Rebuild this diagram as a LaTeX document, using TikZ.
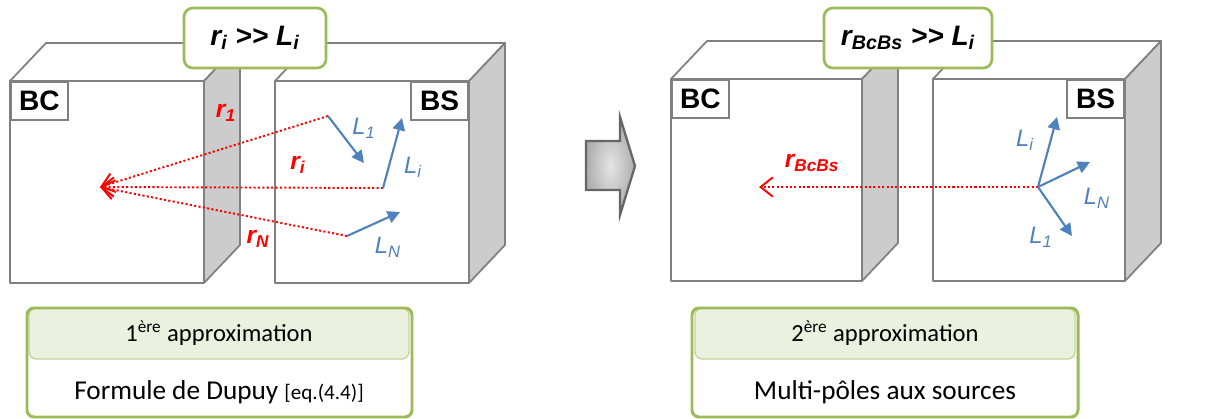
\documentclass[tikz,border=0pt]{standalone}
\usepackage{fontspec}
\setmainfont{Liberation Sans}
\newfontfamily\bodyfont{Carlito}
\usepackage{tikz}
\usetikzlibrary{positioning,calc,arrows.meta}
\definecolor{boxedge}{RGB}{128,128,128}
\definecolor{sidegrey}{RGB}{204,204,204}
\definecolor{condgreen}{HTML}{9BBB59}
\definecolor{headgreen}{HTML}{EBF1DE}
\definecolor{vecblue}{HTML}{4F81BD}
\definecolor{distred}{RGB}{255,0,0}

% block: front face (x1,y1)-(x2,y2), depth 36 right / 38 up
\newcommand{\drawblock}[4]{%
  \draw[face] (#1,#2) -- ({#1+36},{#2-38}) -- ({#3+36},{#2-38}) -- (#3,#2) -- cycle;
  \draw[face, fill=sidegrey] (#3,#2) -- ({#3+36},{#2-38}) -- ({#3+36},{#4-38}) -- (#3,#4) -- cycle;
  \draw[face] (#1,#2) rectangle (#3,#4);
}
\newcommand{\muchgt}{>\kern0pt>}

\begin{document}
\begin{tikzpicture}[x=0.02cm, y=-0.02cm,
  face/.style={draw=boxedge, line width=1pt, fill=white, line join=round},
  tag/.style={draw=boxedge, line width=1pt, fill=white, minimum width=1.14cm, minimum height=0.76cm, inner sep=0pt, anchor=north west, font=\fontsize{16}{16}\selectfont\bfseries},
  cond/.style={draw=condgreen, line width=1.5pt, fill=white, rounded corners=5pt, minimum height=1.2cm, inner sep=0pt, font=\fontsize{16}{18}\selectfont\bfseries\itshape},
  dist/.style={draw=distred, line width=1.1pt, dash pattern=on 1.2pt off 1.3pt, -{Straight Barb[length=7pt,width=11pt]}},
  vec/.style={draw=vecblue, line width=1.2pt, -{Triangle[length=7pt,width=7pt]}},
  rlab/.style={text=distred, inner sep=0pt, font=\fontsize{14}{14}\selectfont\bfseries\itshape},
  llab/.style={text=vecblue, inner sep=0pt, font=\fontsize{13.5}{14}\selectfont\itshape},
  head/.style={draw=condgreen!60, line width=0.8pt, fill=headgreen, rounded corners=4pt, minimum width=7.6cm, minimum height=1.02cm, inner sep=0pt, font=\bodyfont\fontsize{14}{16}\selectfont},
  body/.style={inner sep=0pt, font=\bodyfont\fontsize{15.5}{17}\selectfont},
  frame/.style={draw=condgreen, line width=1.7pt, rounded corners=4pt}]
\useasboundingbox (0,0) rectangle (1208,419);

% first approximation
\drawblock{10}{81}{204}{283}
\drawblock{275}{81}{469}{283}
\node[tag] (bc1) at (10,81) {BC};
\node[tag, anchor=north east] (bs1) at (469,81) {BS};
\node[cond, minimum width=2.84cm] (cond1) at (255,38) {r\textsubscript{i} \muchgt{} L\textsubscript{i}};

\coordinate (tip1) at (100,187);
\coordinate (s1) at (328,116);
\coordinate (si) at (383,188);
\coordinate (sn) at (347,236);
\coordinate (e1) at (364,163);
\coordinate (ei) at (402,118);
\coordinate (en) at (400,212);
\draw[dist] (s1) -- (tip1);
\draw[dist] (si) -- (tip1);
\draw[dist] (sn) -- (tip1);
\draw[vec] (s1) -- (e1);
\draw[vec] (si) -- (ei);
\draw[vec] (sn) -- (en);
\node[rlab] (r1) at (226,113) {r\textsubscript{1}};
\node[rlab] (ri) at (298,165) {r\textsubscript{i}};
\node[rlab] (rn) at (258,239) {r\textsubscript{N}};
\node[llab] (l1) at (364,128) {L\textsubscript{1}};
\node[llab] (li) at (413,167) {L\textsubscript{i}};
\node[llab] (ln) at (388,247) {L\textsubscript{N}};

% transition arrow
\shade[inner color=gray!20, outer color=gray!65, draw=gray!80!black, line width=1.3pt, line join=miter]
  (586,141) -- (620,141) -- (620,117) -- (635,166) -- (620,215) -- (620,190) -- (586,190) -- cycle;

% second approximation
\drawblock{671}{79}{862}{281}
\drawblock{933}{79}{1125}{281}
\node[tag] (bc2) at (671,79) {BC};
\node[tag, anchor=north east] (bs2) at (1125,79) {BS};
\node[cond, minimum width=3.36cm] (cond2) at (908,38) {r\textsubscript{BcBs} \muchgt{} L\textsubscript{i}};

\coordinate (tip2) at (759,187);
\coordinate (src) at (1038,187);
\coordinate (f1) at (1072,236);
\coordinate (fi) at (1057,117);
\coordinate (fn) at (1090,162);
\draw[dist] (src) -- (tip2);
\draw[vec] (src) -- (fi);
\draw[vec] (src) -- (fn);
\draw[vec] (src) -- (f1);
\node[rlab] (rbb) at (812,163) {r\textsubscript{BcBs}};
\node[llab] (m1) at (1041,237) {L\textsubscript{1}};
\node[llab] (mi) at (1025,140) {L\textsubscript{i}};
\node[llab] (mn) at (1097,198) {L\textsubscript{N}};

% captions
\node[head] (head1) at (219,333.5) {1\textsuperscript{ère} approximation};
\node[body] (body1) at (219,392) {Formule de Dupuy {\fontsize{12}{14}\selectfont[eq.(4.4)]}};
\draw[frame] (27,308) rectangle (412,417);
\node[head] (head2) at (885,333.5) {2\textsuperscript{ère} approximation};
\node[body] (body2) at (885,392) {Multi-pôles aux sources};
\draw[frame] (692,308) rectangle (1078,417);
\end{tikzpicture}
\end{document}
